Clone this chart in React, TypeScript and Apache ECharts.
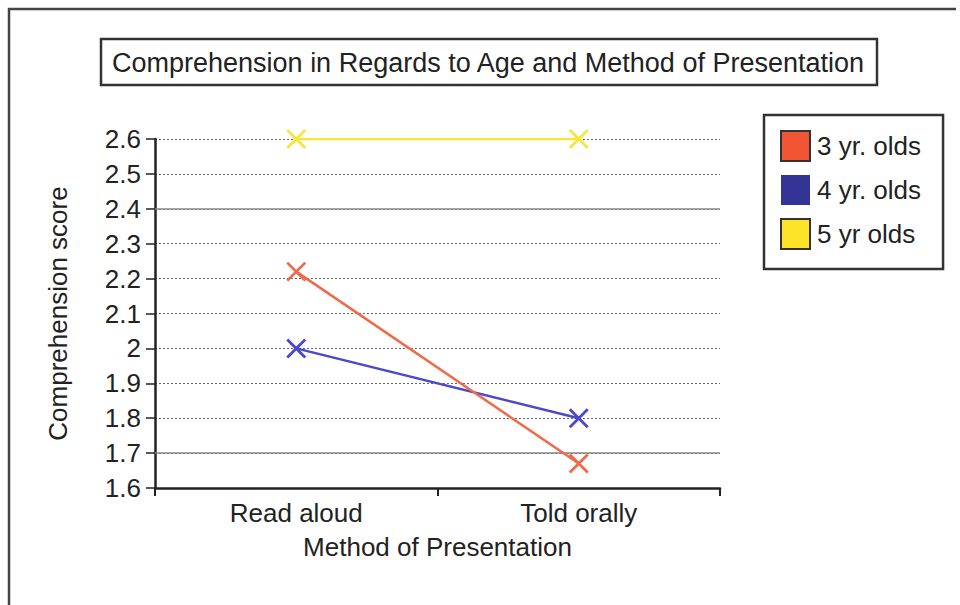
import React, { useEffect, useRef } from "react";
import * as echarts from "echarts";

const categories = ["Read aloud", "Told orally"];
const seriesNames = ["3 yr. olds", "4 yr. olds", "5 yr olds"];
const threeYr = [2.22, 1.67];
const fourYr = [2.0, 1.8];
const fiveYr = [2.6, 2.6];
const lineColors = ["#f06a48", "#4b48cc", "#f7e53a"];
const swatchColors = ["#f25533", "#343496", "#fde428"];
const solidGridValues = [2.4, 1.7];

const FONT = "Liberation Sans, Arial, sans-serif";
const cross = "path://M0,0L10,10M10,0L0,10";

export default function App() {
  const ref = useRef<HTMLDivElement>(null);
  useEffect(() => {
    if (!ref.current) return;
    const chart = echarts.init(ref.current, null, { renderer: "svg" });
    const data = [threeYr, fourYr, fiveYr];
    chart.setOption({
      animation: false,
      backgroundColor: "#ffffff",
      textStyle: { fontFamily: FONT },
      grid: { left: 155, right: 240, top: 139, bottom: 117 },
      xAxis: {
        type: "category",
        data: categories,
        name: "Method of Presentation",
        nameLocation: "middle",
        nameGap: 46,
        nameTextStyle: { fontSize: 26, color: "#222", fontFamily: FONT },
        axisLine: { lineStyle: { color: "#222", width: 2.5 } },
        axisTick: { show: true, length: 8, lineStyle: { color: "#222", width: 2 } },
        axisLabel: { fontSize: 26, color: "#222", margin: 12, fontFamily: FONT },
      },
      yAxis: {
        type: "value",
        min: 1.6,
        max: 2.6,
        interval: 0.1,
        name: "Comprehension score",
        nameLocation: "middle",
        nameGap: 84,
        nameTextStyle: { fontSize: 26, color: "#222", fontFamily: FONT },
        axisLine: { show: true, lineStyle: { color: "#222", width: 2.5 } },
        axisTick: { show: true, length: 9, lineStyle: { color: "#222", width: 1.5 } },
        axisLabel: {
          fontSize: 26,
          color: "#222",
          margin: 14,
          fontFamily: FONT,
          formatter: (v: number) => String(Math.round(v * 10) / 10),
        },
        splitLine: { show: true, lineStyle: { color: "#666", type: [2, 2], width: 1.2 } },
      },
      legend: {
        orient: "vertical",
        left: 764,
        top: 115,
        padding: [15, 22, 19, 16],
        itemWidth: 29,
        itemHeight: 30,
        itemGap: 13,
        borderColor: "#333",
        borderWidth: 2.5,
        textStyle: { fontSize: 26, color: "#222", fontFamily: FONT, padding: [4, 0, 0, 2] },
        data: seriesNames.map((n, i) => ({
          name: n,
          icon: "rect",
          itemStyle: {
            color: swatchColors[i],
            borderColor: i === 1 ? swatchColors[i] : "#333",
            borderWidth: i === 1 ? 0 : 2,
          },
        })),
      },
      graphic: [
        {
          type: "polyline",
          shape: { points: [[9, 605], [9, 9], [956, 9]] },
          style: { stroke: "#444", lineWidth: 2.5, fill: "none" },
          z: 100,
        },
        {
          type: "rect",
          shape: { x: 101, y: 39, width: 776, height: 46 },
          style: { fill: "#fff", stroke: "#333", lineWidth: 2.5 },
          z: 100,
        },
        {
          type: "text",
          x: 488,
          y: 63,
          style: {
            text: "Comprehension in Regards to Age and Method of Presentation",
            fontSize: 27,
            fontFamily: FONT,
            fill: "#222",
            align: "center",
            verticalAlign: "middle",
          },
          z: 101,
        },
      ],
      series: seriesNames.map((n, i) => ({
        name: n,
        type: "line",
        data: data[i],
        symbol: cross,
        symbolSize: 18,
        color: lineColors[i],
        lineStyle: { color: lineColors[i], width: 2.5 },
        itemStyle: { color: "none", borderColor: lineColors[i], borderWidth: 2.8 },
        z: 10 - i,
        markLine:
          i === 0
            ? {
                silent: true,
                symbol: "none",
                label: { show: false },
                lineStyle: { color: "#888", type: "solid", width: 1.5 },
                data: solidGridValues.map((v) => ({ yAxis: v })),
                z: 1,
              }
            : undefined,
      })),
    });
    return () => chart.dispose();
  }, []);
  return (
    <div
      ref={ref}
      style={{ position: "fixed", left: 0, top: 0, width: 960, height: 605 }}
    />
  );
}
